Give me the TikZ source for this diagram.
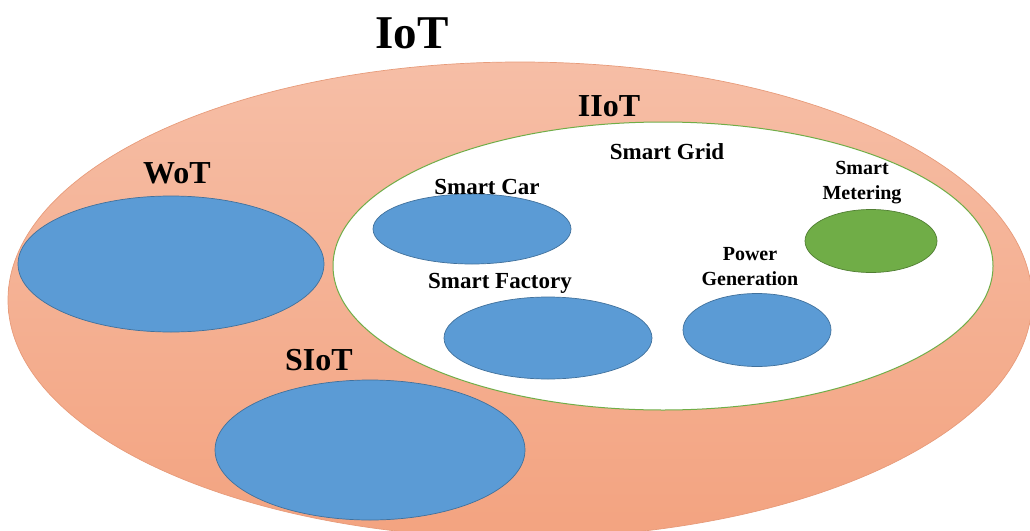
\documentclass[tikz,border=0pt]{standalone}
\usepackage{fontspec}
\setmainfont{Liberation Serif}
\usepackage{xcolor}
\usetikzlibrary{positioning,shapes.geometric}
\definecolor{iottop}{RGB}{246,190,166}
\definecolor{iotbot}{RGB}{243,163,128}
\definecolor{setblue}{RGB}{91,155,213}
\definecolor{setblueline}{RGB}{65,113,156}
\definecolor{setgreen}{RGB}{112,173,71}
\definecolor{setgreenline}{RGB}{80,126,50}
\tikzset{
  setellipse/.style={ellipse, inner sep=0pt, line width=0.7pt},
  setouter/.style={setellipse, draw=iotbot!95!black, top color=iottop, bottom color=iotbot},
  setinner/.style={setellipse, draw=setgreen, fill=white, line width=1pt},
  setblueell/.style={setellipse, draw=setblueline, fill=setblue},
  setgreenell/.style={setellipse, draw=setgreenline, fill=setgreen},
  bigtitle/.style={font=\bfseries\fontsize{47}{52}\selectfont},
  settitle/.style={font=\bfseries\fontsize{32}{36}\selectfont},
  sublabel/.style={font=\bfseries\fontsize{20}{25}\selectfont, align=center},
  sublabelbig/.style={sublabel, font=\bfseries\fontsize{23}{27}\selectfont},
}

\begin{document}
\begin{tikzpicture}[x=1pt, y=-1pt]
  \useasboundingbox (0,0) rectangle (1030,530);
  \clip (0,0) rectangle (1030,530);

  % outer IoT set
  \node[setouter, minimum width=1024pt, minimum height=476pt] (iot) at (520,300) {};
  \node[bigtitle] (iotlabel) at (412,33) {IoT};

  % IIoT set
  \node[setinner, minimum width=660pt, minimum height=288pt] (iiot) at (663,266) {};
  \node[settitle] (iiotlabel) at (609,106) {IIoT};

  % WoT and SIoT
  \node[setblueell, minimum width=306pt, minimum height=136pt] (wot) at (171,264) {};
  \node[settitle] (wotlabel) at (177,173) {WoT};
  \node[setblueell, minimum width=310pt, minimum height=140pt] (siot) at (370,450) {};
  \node[settitle] (siotlabel) at (319,360) {SIoT};

  % inside IIoT
  \node[sublabelbig] (grid) at (667,152) {Smart Grid};
  \node[setblueell, minimum width=198pt, minimum height=70pt] (car) at (472,229) {};
  \node[sublabelbig] (carlabel) at (487,187) {Smart Car};
  \node[setblueell, minimum width=208pt, minimum height=82pt] (factory) at (548,338) {};
  \node[sublabelbig] (factorylabel) at (500,283) {Smart Factory};
  \node[setblueell, minimum width=148pt, minimum height=73pt] (power) at (757,330) {};
  \node[sublabel] (powerlabel) at (750,267) {Power\\Generation};
  \node[setgreenell, minimum width=132pt, minimum height=63pt] (meter) at (871,241) {};
  \node[sublabel] (meterlabel) at (862,183) {Smart\\Metering};
\end{tikzpicture}
\end{document}
